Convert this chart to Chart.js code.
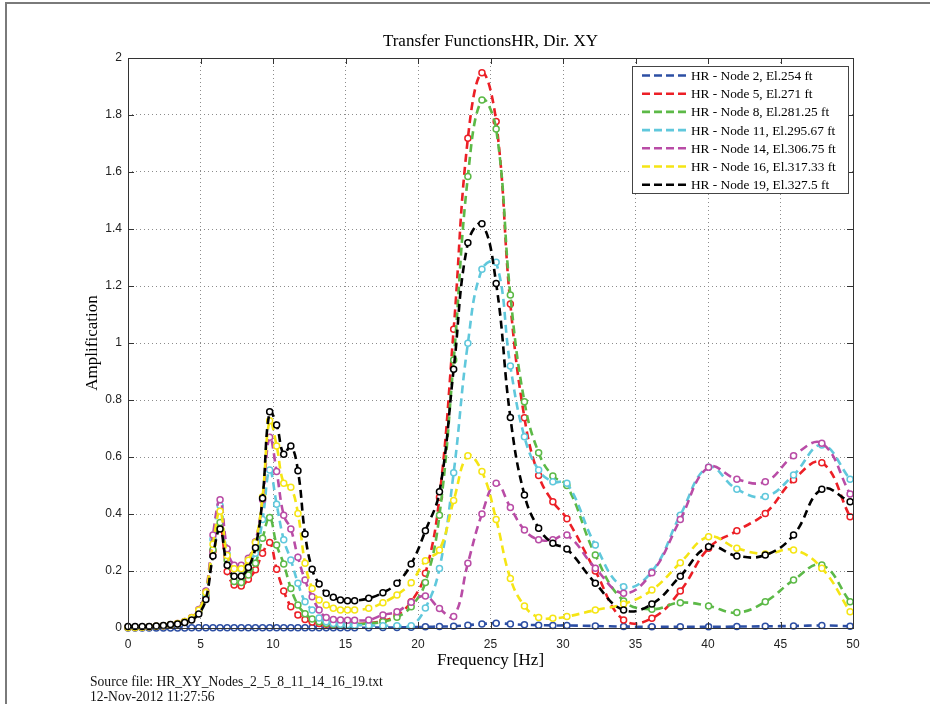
<!DOCTYPE html>
<html>
<head>
<meta charset="utf-8">
<script src="https://cdn.jsdelivr.net/npm/chart.js@4.4.0/dist/chart.umd.min.js"></script>
<style>
html, body { margin: 0; padding: 0; background: #fff; }
#wrap { position: relative; width: 930px; height: 704px; overflow: hidden; }
#frame { position: absolute; left: 5px; top: 2px; width: 930px; height: 710px; border-top: 2px solid #7a7a7a; border-left: 2px solid #7a7a7a; }
canvas { position: absolute; left: 0; top: 0; }
.src { position: absolute; left: 90px; font-family: "Liberation Serif", serif; font-size: 13.6px; color: #111; line-height: 15px; }
</style>
</head>
<body>
<div id="wrap">
  <div id="frame"></div>
  <canvas id="canvas" width="930" height="704"></canvas>
  <div class="src" style="top:674px">Source file: HR_XY_Nodes_2_5_8_11_14_16_19.txt</div>
  <div class="src" style="top:689px">12-Nov-2012 11:27:56</div>
</div>
<script>
// frequencies [Hz] where the markers sit
var freq = [0, 0.49, 0.98, 1.46, 1.95, 2.44, 2.93, 3.42, 3.91, 4.39,
    4.88, 5.37, 5.86, 6.35, 6.84, 7.32, 7.81, 8.30, 8.79, 9.28,
    9.77, 10.25, 10.74, 11.23, 11.72, 12.21, 12.70, 13.18, 13.67, 14.16,
    14.65, 15.14, 15.63, 16.60, 17.58, 18.55, 19.53, 20.51, 21.48, 22.46,
    23.44, 24.41, 25.39, 26.37, 27.34, 28.32, 29.30, 30.27, 32.23, 34.18,
    36.13, 38.09, 40.04, 41.99, 43.95, 45.90, 47.85, 49.80];

var node2 = [0, 0, 0, 0, 0, 0, 0, 0, 0, 0.001,
    0.001, 0.001, 0.001, 0.001, 0.001, 0.001, 0.001, 0.001, 0.001, 0.001,
    0.001, 0.001, 0.001, 0.001, 0.001, 0.001, 0.001, 0.001, 0.001, 0.001,
    0.001, 0.001, 0.001, 0.001, 0.002, 0.002, 0.003, 0.004, 0.005, 0.006,
    0.010, 0.014, 0.017, 0.014, 0.011, 0.010, 0.009, 0.009, 0.007, 0.005,
    0.004, 0.004, 0.004, 0.005, 0.006, 0.007, 0.009, 0.006];

var node5 = [0.002, 0.002, 0.003, 0.004, 0.006, 0.008, 0.011, 0.015, 0.021, 0.032,
    0.055, 0.110, 0.270, 0.360, 0.198, 0.151, 0.147, 0.171, 0.204, 0.262,
    0.300, 0.206, 0.130, 0.075, 0.046, 0.030, 0.021, 0.016, 0.013, 0.012,
    0.012, 0.012, 0.013, 0.017, 0.025, 0.045, 0.092, 0.192, 0.459, 1.048,
    1.718, 1.948, 1.777, 1.137, 0.738, 0.535, 0.443, 0.383, 0.200, 0.028,
    0.034, 0.130, 0.280, 0.341, 0.402, 0.520, 0.580, 0.390];

var node8 = [0.002, 0.002, 0.003, 0.004, 0.006, 0.008, 0.011, 0.015, 0.021, 0.033,
    0.057, 0.115, 0.275, 0.370, 0.238, 0.163, 0.160, 0.186, 0.227, 0.315,
    0.388, 0.291, 0.225, 0.139, 0.081, 0.050, 0.032, 0.022, 0.016, 0.013,
    0.012, 0.012, 0.013, 0.016, 0.022, 0.038, 0.075, 0.160, 0.396, 0.940,
    1.584, 1.853, 1.751, 1.168, 0.794, 0.615, 0.533, 0.500, 0.256, 0.095,
    0.066, 0.089, 0.077, 0.054, 0.092, 0.168, 0.221, 0.092];

var node11 = [0.002, 0.002, 0.003, 0.004, 0.006, 0.008, 0.011, 0.015, 0.022, 0.034,
    0.058, 0.120, 0.311, 0.430, 0.260, 0.210, 0.205, 0.233, 0.262, 0.381,
    0.554, 0.434, 0.310, 0.239, 0.157, 0.092, 0.063, 0.035, 0.022, 0.016,
    0.013, 0.011, 0.010, 0.009, 0.008, 0.008, 0.008, 0.070, 0.209, 0.545,
    0.999, 1.259, 1.283, 0.919, 0.671, 0.554, 0.513, 0.508, 0.291, 0.145,
    0.198, 0.396, 0.564, 0.487, 0.461, 0.537, 0.642, 0.522];

var node14 = [0.002, 0.002, 0.003, 0.004, 0.006, 0.008, 0.011, 0.016, 0.023, 0.037,
    0.065, 0.130, 0.326, 0.450, 0.278, 0.220, 0.220, 0.245, 0.303, 0.450,
    0.669, 0.549, 0.396, 0.347, 0.248, 0.168, 0.110, 0.063, 0.037, 0.030,
    0.028, 0.027, 0.027, 0.028, 0.046, 0.057, 0.090, 0.112, 0.068, 0.040,
    0.227, 0.400, 0.508, 0.423, 0.344, 0.310, 0.310, 0.326, 0.210, 0.122,
    0.194, 0.381, 0.564, 0.522, 0.513, 0.604, 0.648, 0.470];

var node16 = [0.002, 0.002, 0.003, 0.004, 0.006, 0.008, 0.011, 0.016, 0.023, 0.036,
    0.062, 0.125, 0.294, 0.410, 0.254, 0.208, 0.208, 0.238, 0.300, 0.460,
    0.727, 0.639, 0.508, 0.494, 0.402, 0.227, 0.139, 0.098, 0.081, 0.069,
    0.063, 0.063, 0.063, 0.069, 0.089, 0.116, 0.159, 0.236, 0.274, 0.447,
    0.604, 0.549, 0.381, 0.174, 0.077, 0.037, 0.034, 0.040, 0.063, 0.084,
    0.133, 0.229, 0.320, 0.280, 0.260, 0.274, 0.210, 0.057];

var node19 = [0.005, 0.005, 0.005, 0.005, 0.007, 0.009, 0.012, 0.014, 0.019, 0.028,
    0.049, 0.100, 0.253, 0.347, 0.220, 0.182, 0.182, 0.212, 0.282, 0.455,
    0.759, 0.712, 0.610, 0.639, 0.552, 0.330, 0.206, 0.154, 0.122, 0.108,
    0.098, 0.096, 0.096, 0.104, 0.124, 0.157, 0.225, 0.341, 0.478, 0.908,
    1.352, 1.418, 1.209, 0.739, 0.467, 0.350, 0.297, 0.277, 0.157, 0.063,
    0.084, 0.182, 0.285, 0.253, 0.256, 0.326, 0.487, 0.443];

var seriesNames = ["HR - Node 2, El.254 ft", "HR - Node 5, El.271 ft", "HR - Node 8, El.281.25 ft",
    "HR - Node 11, El.295.67 ft", "HR - Node 14, El.306.75 ft", "HR - Node 16, El.317.33 ft",
    "HR - Node 19, El.327.5 ft"];
var seriesValues = [node2, node5, node8, node11, node14, node16, node19];
var seriesColors = ["#2d4fa4", "#ec1f26", "#5cb947", "#60c8dc", "#b94ca6", "#f5e514", "#000000"];

var xTicks = [0, 5, 10, 15, 20, 25, 30, 35, 40, 45, 50];
var yTicks = [0, 0.2, 0.4, 0.6, 0.8, 1, 1.2, 1.4, 1.6, 1.8, 2];

function makeDatasets() {
    var sets = [];
    for (var i = 0; i < seriesValues.length; i++) {
        var pts = [];
        for (var k = 0; k < freq.length; k++) {
            pts.push({ x: freq[k], y: seriesValues[i][k] });
        }
        sets.push({
            label: seriesNames[i],
            data: pts,
            borderColor: seriesColors[i],
            borderWidth: 2.6,
            borderDash: [8, 5],
            tension: 0.42,
            pointRadius: 3,
            pointBorderWidth: 1.5,
            pointBorderColor: seriesColors[i],
            pointBackgroundColor: "#ffffff",
            fill: false,
            clip: 5,
            order: seriesValues.length - 1 - i
        });
    }
    return sets;
}

// box, inward ticks, title, axis labels, legend
var decorPlugin = {
    id: "decor",
    afterDraw: function (chart) {
        var ctx = chart.ctx;
        var a = chart.chartArea;
        var xs = chart.scales.x, ys = chart.scales.y;
        ctx.save();
        ctx.strokeStyle = "#333";
        ctx.lineWidth = 1;
        ctx.strokeRect(a.left + 0.5, a.top + 0.5, a.right - a.left, a.bottom - a.top);
        ctx.beginPath();
        xTicks.forEach(function (t) {
            var px = Math.round(xs.getPixelForValue(t)) + 0.5;
            ctx.moveTo(px, a.bottom); ctx.lineTo(px, a.bottom - 6);
            ctx.moveTo(px, a.top); ctx.lineTo(px, a.top + 6);
        });
        yTicks.forEach(function (t) {
            var py = Math.round(ys.getPixelForValue(t)) + 0.5;
            ctx.moveTo(a.left, py); ctx.lineTo(a.left + 6, py);
            ctx.moveTo(a.right, py); ctx.lineTo(a.right - 6, py);
        });
        ctx.stroke();

        ctx.fillStyle = "#000";
        ctx.textAlign = "center";
        ctx.textBaseline = "middle";
        ctx.font = '17px "Liberation Serif"';
        ctx.fillText("Transfer FunctionsHR, Dir. XY", (a.left + a.right) / 2, 42);
        ctx.fillText("Frequency [Hz]", (a.left + a.right) / 2, 661);
        ctx.save();
        ctx.translate(93, (a.top + a.bottom) / 2);
        ctx.rotate(-Math.PI / 2);
        ctx.fillText("Amplification", 0, 0);
        ctx.restore();

        // legend
        var lx = 632, ly = 66, lw = 216, lh = 127;
        ctx.fillStyle = "#fff";
        ctx.fillRect(lx, ly, lw, lh);
        ctx.strokeStyle = "#444";
        ctx.strokeRect(lx + 0.5, ly + 0.5, lw, lh);
        ctx.font = '13.3px "Liberation Serif"';
        ctx.textAlign = "left";
        for (var i = 0; i < seriesNames.length; i++) {
            var ry = ly + 9.5 + i * 18.2;
            ctx.strokeStyle = seriesColors[i];
            ctx.lineWidth = 2.6;
            ctx.setLineDash([8, 4]);
            ctx.beginPath();
            ctx.moveTo(lx + 10, ry);
            ctx.lineTo(lx + 54, ry);
            ctx.stroke();
            ctx.setLineDash([]);
            ctx.fillStyle = "#000";
            ctx.fillText(seriesNames[i], lx + 59, ry + 1);
        }
        ctx.restore();
    }
};

var ctx = document.getElementById("canvas").getContext("2d");
var myChart = new Chart(ctx, {
    type: "line",
    data: { datasets: makeDatasets() },
    options: {
        responsive: false,
        animation: false,
        devicePixelRatio: 1,
        layout: { padding: { left: 0, right: 77, top: 58, bottom: 0 } },
        plugins: { legend: { display: false }, tooltip: { enabled: false } },
        scales: {
            x: {
                type: "linear",
                min: 0,
                max: 50,
                afterBuildTicks: function (s) { s.ticks = xTicks.map(function (v) { return { value: v }; }); },
                afterFit: function (s) { s.height = 76; },
                ticks: { color: "#222", padding: 9, maxRotation: 0, font: { family: "Liberation Sans", size: 12 } },
                grid: { color: "#8c8c8c", lineWidth: 1, drawTicks: false },
                border: { display: false, dash: [1, 3] }
            },
            y: {
                type: "linear",
                min: 0,
                max: 2,
                afterBuildTicks: function (s) { s.ticks = yTicks.map(function (v) { return { value: v }; }); },
                afterFit: function (s) { s.width = 128; },
                ticks: { color: "#222", padding: 6, font: { family: "Liberation Sans", size: 12 },
                    callback: function (v) { return String(Math.round(v * 10) / 10); } },
                grid: { color: "#8c8c8c", lineWidth: 1, drawTicks: false },
                border: { display: false, dash: [1, 3] }
            }
        }
    },
    plugins: [decorPlugin]
});
</script>
</body>
</html>
